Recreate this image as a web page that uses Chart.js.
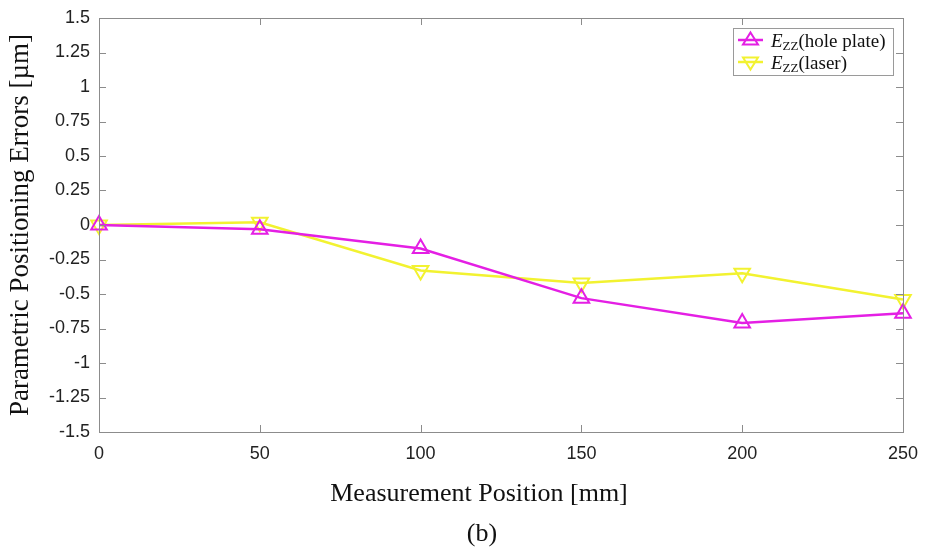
<!DOCTYPE html>
<html>
<head>
<meta charset="utf-8">
<script src="https://cdn.jsdelivr.net/npm/chart.js@4.4.0/dist/chart.umd.min.js"></script>
<style>
  html, body { margin: 0; padding: 0; background: #fff; }
  #wrap { width: 933px; height: 552px; }
</style>
</head>
<body>
<div id="wrap"><canvas id="errChart" width="933" height="552"></canvas></div>
<script>
const positions = [0, 50, 100, 150, 200, 250];
const holePlate = [0, -0.03, -0.17, -0.53, -0.71, -0.64];
const laser = [0, 0.02, -0.33, -0.42, -0.35, -0.54];
const yTicks = [1.5, 1.25, 1, 0.75, 0.5, 0.25, 0, -0.25, -0.5, -0.75, -1, -1.25, -1.5];
const xTicks = [0, 50, 100, 150, 200, 250];

const magenta = '#e41fe4';
const yellow = '#f2f230';
const frameColor = '#8c8c8c';

const toPoints = (ys) => positions.map((x, i) => ({ x: x, y: ys[i] }));

// box, inward ticks, legend, x title and caption drawn like the MATLAB figure
const framePlugin = {
    id: 'frame',
    afterDraw(chart) {
        const { ctx, chartArea: a, scales } = chart;
        ctx.save();
        ctx.strokeStyle = frameColor;
        ctx.lineWidth = 1;
        ctx.strokeRect(a.left + 0.5, a.top + 0.5, a.right - a.left, a.bottom - a.top);
        ctx.beginPath();
        for (const v of yTicks) {
            const y = Math.round(scales.y.getPixelForValue(v)) + 0.5;
            ctx.moveTo(a.left, y); ctx.lineTo(a.left + 7, y);
            ctx.moveTo(a.right, y); ctx.lineTo(a.right - 7, y);
        }
        for (const v of xTicks) {
            const x = Math.round(scales.x.getPixelForValue(v)) + 0.5;
            ctx.moveTo(x, a.bottom); ctx.lineTo(x, a.bottom - 7);
            ctx.moveTo(x, a.top); ctx.lineTo(x, a.top + 7);
        }
        ctx.stroke();

        // legend
        const lx = 733, ly = 28, lw = 160, lh = 47;
        ctx.fillStyle = '#fff';
        ctx.fillRect(lx, ly, lw, lh);
        ctx.strokeStyle = '#9a9a9a';
        ctx.strokeRect(lx + 0.5, ly + 0.5, lw, lh);
        const rows = [
            { label: '(hole plate)', color: magenta, rot: 0 },
            { label: '(laser)', color: yellow, rot: 180 }
        ];
        rows.forEach((r, i) => {
            const cy = ly + 12 + i * 22;
            ctx.strokeStyle = r.color;
            ctx.lineWidth = 2.5;
            ctx.beginPath();
            ctx.moveTo(lx + 5, cy); ctx.lineTo(lx + 30, cy);
            ctx.stroke();
            ctx.lineWidth = 2;
            ctx.beginPath();
            const s = 7.5;
            if (r.rot === 0) {
                ctx.moveTo(lx + 17.5, cy - s); ctx.lineTo(lx + 17.5 + s, cy + s * 0.6); ctx.lineTo(lx + 17.5 - s, cy + s * 0.6);
            } else {
                ctx.moveTo(lx + 17.5, cy + s); ctx.lineTo(lx + 17.5 + s, cy - s * 0.6); ctx.lineTo(lx + 17.5 - s, cy - s * 0.6);
            }
            ctx.closePath();
            ctx.stroke();
            ctx.fillStyle = '#111';
            ctx.textBaseline = 'alphabetic';
            ctx.textAlign = 'left';
            let tx = lx + 38;
            ctx.font = 'italic 19px "Liberation Serif"';
            ctx.fillText('E', tx, cy + 7);
            tx += ctx.measureText('E').width;
            ctx.font = '13px "Liberation Serif"';
            ctx.fillText('ZZ', tx, cy + 10);
            tx += ctx.measureText('ZZ').width;
            ctx.font = '19px "Liberation Serif"';
            ctx.fillText(r.label, tx, cy + 7);
        });

        ctx.fillStyle = '#111';
        ctx.textAlign = 'center';
        ctx.textBaseline = 'middle';
        ctx.font = '26px "Liberation Serif"';
        ctx.fillText('Measurement Position [mm]', 479, 494);
        ctx.fillText('(b)', 482, 534);
        ctx.restore();
    }
};

const ctx = document.getElementById('errChart').getContext('2d');
const chart = new Chart(ctx, {
    type: 'line',
    data: {
        datasets: [{
            label: 'Ezz(hole plate)',
            data: toPoints(holePlate),
            borderColor: magenta,
            backgroundColor: 'rgba(0,0,0,0)',
            borderWidth: 2.5,
            pointStyle: 'triangle',
            pointRadius: 9,
            pointBorderWidth: 2,
            pointBackgroundColor: 'rgba(0,0,0,0)',
            pointBorderColor: magenta,
            tension: 0
        }, {
            label: 'Ezz(laser)',
            data: toPoints(laser),
            borderColor: yellow,
            backgroundColor: 'rgba(0,0,0,0)',
            borderWidth: 2.5,
            pointStyle: 'triangle',
            pointRotation: 180,
            pointRadius: 9,
            pointBorderWidth: 2,
            pointBackgroundColor: 'rgba(0,0,0,0)',
            pointBorderColor: yellow,
            tension: 0
        }]
    },
    options: {
        responsive: false,
        animation: false,
        clip: false,
        layout: { padding: { top: 18, right: 30, left: 0, bottom: 0 } },
        plugins: {
            legend: { display: false },
            tooltip: { enabled: false }
        },
        scales: {
            x: {
                type: 'linear',
                min: 0,
                max: 250,
                afterBuildTicks: (s) => { s.ticks = xTicks.map(v => ({ value: v })); },
                afterFit: (s) => { s.height = 120; },
                grid: { display: false },
                border: { display: false },
                ticks: {
                    padding: 3,
                    color: '#222',
                    font: { family: '"Liberation Sans"', size: 18 }
                },
                title: { display: false }
            },
            y: {
                min: -1.5,
                max: 1.5,
                afterBuildTicks: (s) => { s.ticks = yTicks.map(v => ({ value: v })); },
                afterFit: (s) => { s.width = 99; },
                grid: { display: false },
                border: { display: false },
                ticks: {
                    padding: 1,
                    color: '#222',
                    font: { family: '"Liberation Sans"', size: 18 },
                    callback: (v) => String(v)
                },
                title: {
                    display: true,
                    text: 'Parametric Positioning Errors [\u00b5m]',
                    color: '#111',
                    font: { family: '"Liberation Serif"', size: 27 },
                    padding: { top: 5, bottom: 0 }
                }
            }
        }
    },
    plugins: [framePlugin]
});
</script>
</body>
</html>
